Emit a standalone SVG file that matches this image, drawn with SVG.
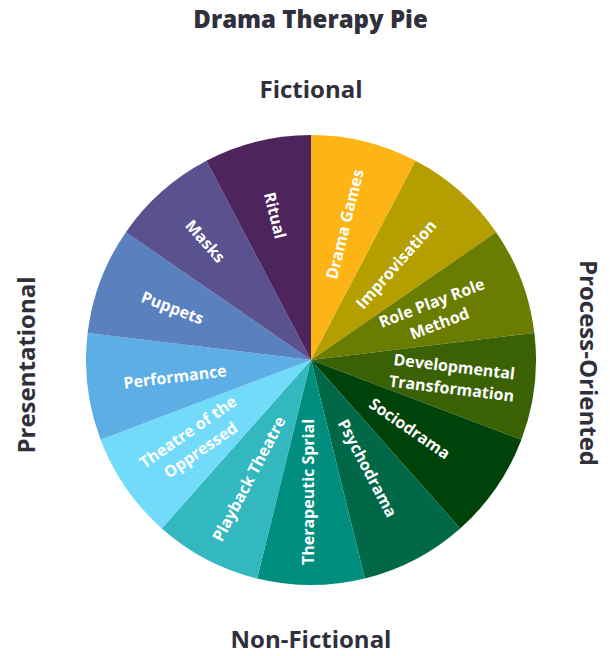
<svg xmlns="http://www.w3.org/2000/svg" width="610" height="656" viewBox="0 0 610 656">
<style>
.ax{font-family:"Open Sans","Liberation Sans",sans-serif;font-weight:700;font-size:24px;fill:#30303d;text-anchor:middle}
.lb{font-family:"Open Sans","Liberation Sans",sans-serif;font-weight:700;font-size:16px;fill:#ffffff;text-anchor:middle;dominant-baseline:central}
</style>
<rect width="610" height="656" fill="#ffffff"/>
<text class="ax" x="310.5" y="28" style="font-weight:800">Drama Therapy Pie</text>
<text class="ax" x="311" y="98">Fictional</text>
<text class="ax" x="311" y="648" font-size="23.5">Non-Fictional</text>
<text class="ax" transform="translate(35,365) rotate(-90)">Presentational</text>
<text class="ax" transform="translate(580,363) rotate(90)">Process-Oriented</text>
<g id="pie">
<g id="s-drama-games"><path d="M311,360 L311,135 A225,225 0 0 1 415.56,160.77 Z" fill="#FDB515"/><text class="lb" transform="translate(344.5,224.1) rotate(-76.15)">Drama Games</text></g>
<g id="s-improvisation"><path d="M311,360 L415.56,160.77 A225,225 0 0 1 496.17,232.19 Z" fill="#B59F00"/><text class="lb" transform="translate(395.9,264.2) rotate(-48.46)">Improvisation</text></g>
<g id="s-role-play"><path d="M311,360 L496.17,232.19 A225,225 0 0 1 534.36,332.88 Z" fill="#6B7D00"/><text class="lb" transform="translate(435.4,312.8) rotate(-20.77)"><tspan x="0" y="-11">Role Play Role</tspan><tspan x="0" y="11">Method</tspan></text></g>
<g id="s-developmental"><path d="M311,360 L534.36,332.88 A225,225 0 0 1 521.38,439.79 Z" fill="#3A6205"/><text class="lb" transform="translate(453,377.2) rotate(6.92)"><tspan x="0" y="-11">Developmental</tspan><tspan x="0" y="11">Transformation</tspan></text></g>
<g id="s-sociodrama"><path d="M311,360 L521.38,439.79 A225,225 0 0 1 460.20,528.41 Z" fill="#00430A"/><text class="lb" transform="translate(409.8,428.2) rotate(34.62)">Sociodrama</text></g>
<g id="s-psychodrama"><path d="M311,360 L460.20,528.41 A225,225 0 0 1 364.85,578.46 Z" fill="#006847"/><text class="lb" transform="translate(367.7,468) rotate(62.31)">Psychodrama</text></g>
<g id="s-therapeutic-spiral"><path d="M311,360 L364.85,578.46 A225,225 0 0 1 257.15,578.46 Z" fill="#008F7E"/><text class="lb" transform="translate(308,492) rotate(-90)">Therapeutic Sprial</text></g>
<g id="s-playback"><path d="M311,360 L257.15,578.46 A225,225 0 0 1 161.80,528.41 Z" fill="#33B8BF"/><text class="lb" transform="translate(248.7,478.7) rotate(-62.31)">Playback Theatre</text></g>
<g id="s-oppressed"><path d="M311,360 L161.80,528.41 A225,225 0 0 1 100.62,439.79 Z" fill="#72DBFA"/><text class="lb" transform="translate(194.1,440.7) rotate(-34.62)"><tspan x="0" y="-11">Theatre of the</tspan><tspan x="0" y="11">Oppressed</tspan></text></g>
<g id="s-performance"><path d="M311,360 L100.62,439.79 A225,225 0 0 1 87.64,332.88 Z" fill="#5DAEE5"/><text class="lb" transform="translate(175,376.5) rotate(-6.92)">Performance</text></g>
<g id="s-puppets"><path d="M311,360 L87.64,332.88 A225,225 0 0 1 125.83,232.19 Z" fill="#5B80BE"/><text class="lb" transform="translate(172.6,307.5) rotate(20.77)">Puppets</text></g>
<g id="s-masks"><path d="M311,360 L125.83,232.19 A225,225 0 0 1 206.44,160.77 Z" fill="#59528F"/><text class="lb" transform="translate(205.6,241) rotate(48.46)">Masks</text></g>
<g id="s-ritual"><path d="M311,360 L206.44,160.77 A225,225 0 0 1 311,135 Z" fill="#4E245C"/><text class="lb" transform="translate(275.3,215.3) rotate(76.15)">Ritual</text></g>
</g>
</svg>
